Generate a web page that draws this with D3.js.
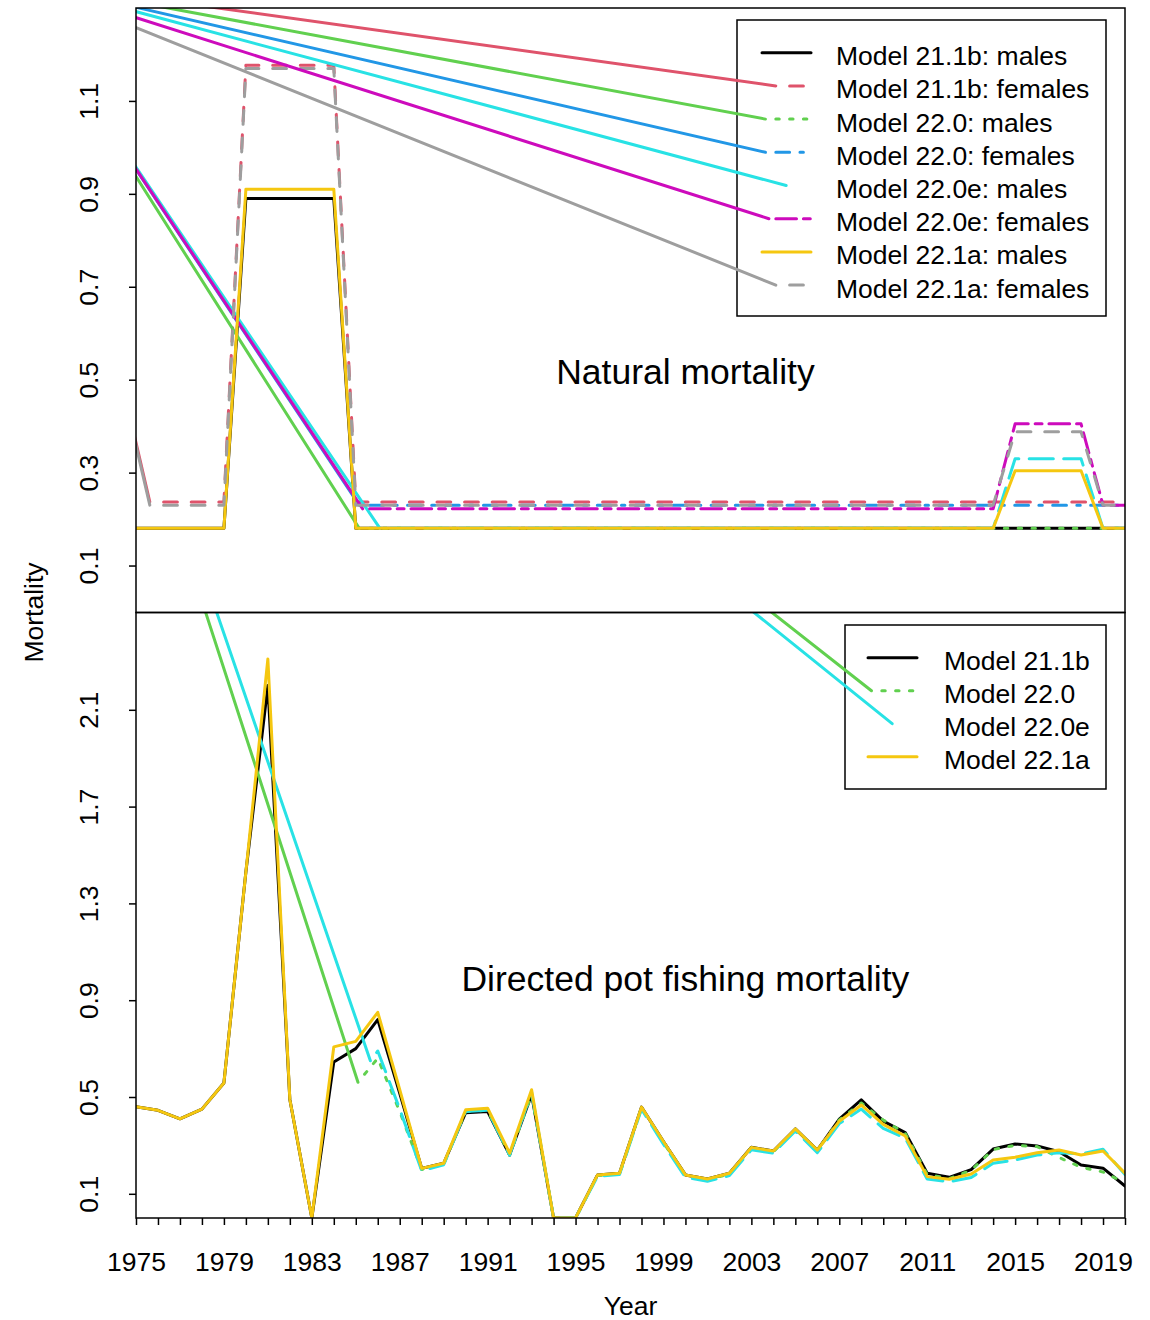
<!DOCTYPE html>
<html>
<head>
<meta charset="utf-8">
<script src="https://cdn.jsdelivr.net/npm/d3@7"></script>
<style>
  body { margin: 0; background: #fff; }
  svg { display: block; }
  text { font-family: "Liberation Sans", Arial, Helvetica, sans-serif; fill: #000; }
</style>
</head>
<body>
<svg id="chart" width="1150" height="1320"></svg>
<script>
// ---- data -------------------------------------------------------------
const years = [1975,1976,1977,1978,1979,1980,1981,1982,1983,1984,
               1985,1986,1987,1988,1989,1990,1991,1992,1993,1994,
               1995,1996,1997,1998,1999,2000,2001,2002,2003,2004,
               2005,2006,2007,2008,2009,2010,2011,2012,2013,2014,
               2015,2016,2017,2018,2019,2020];
const yearLabels = [1975,1979,1983,1987,1991,1995,1999,2003,2007,2011,2015,2019];
const topTicks = [0.1,0.3,0.5,0.7,0.9,1.1];
const bottomTicks = [0.1,0.5,0.9,1.3,1.7,2.1];

// natural mortality by model and sex
const natM_211b_m = [0.18,0.18,0.18,0.18,0.18,0.89,0.89,0.89,0.89,0.89,
                     0.18,0.18,0.18,0.18,0.18,0.18,0.18,0.18,0.18,0.18,
                     0.18,0.18,0.18,0.18,0.18,0.18,0.18,0.18,0.18,0.18,
                     0.18,0.18,0.18,0.18,0.18,0.18,0.18,0.18,0.18,0.18,
                     0.18,0.18,0.18,0.18,0.18,0.18];
const natM_211b_f = [0.237,0.237,0.237,0.237,0.237,1.177,1.177,1.177,1.177,1.177,
                     0.237,0.237,0.237,0.237,0.237,0.237,0.237,0.237,0.237,0.237,
                     0.237,0.237,0.237,0.237,0.237,0.237,0.237,0.237,0.237,0.237,
                     0.237,0.237,0.237,0.237,0.237,0.237,0.237,0.237,0.237,0.237,
                     0.237,0.237,0.237,0.237,0.237,0.237];
const natM_220_m  = [null,null,null,null,null,null,null,null,null,null,
                     0.18,0.18,0.18,0.18,0.18,0.18,0.18,0.18,0.18,0.18,
                     0.18,0.18,0.18,0.18,0.18,0.18,0.18,0.18,0.18,0.18,
                     0.18,0.18,0.18,0.18,0.18,0.18,0.18,0.18,0.18,0.18,
                     0.18,0.18,0.18,0.18,0.18,0.18];
const natM_220_f  = [null,null,null,null,null,null,null,null,null,null,
                     0.23,0.23,0.23,0.23,0.23,0.23,0.23,0.23,0.23,0.23,
                     0.23,0.23,0.23,0.23,0.23,0.23,0.23,0.23,0.23,0.23,
                     0.23,0.23,0.23,0.23,0.23,0.23,0.23,0.23,0.23,0.23,
                     0.23,0.23,0.23,0.23,0.23,0.23];
const natM_220e_m = [null,null,null,null,null,null,null,null,null,null,
                     0.18,0.18,0.18,0.18,0.18,0.18,0.18,0.18,0.18,0.18,
                     0.18,0.18,0.18,0.18,0.18,0.18,0.18,0.18,0.18,0.18,
                     0.18,0.18,0.18,0.18,0.18,0.18,0.18,0.18,0.18,0.18,
                     0.33,0.33,0.33,0.33,0.18,0.18];
const natM_220e_f = [null,null,null,null,null,null,null,null,null,null,
                     0.222,0.222,0.222,0.222,0.222,0.222,0.222,0.222,0.222,0.222,
                     0.222,0.222,0.222,0.222,0.222,0.222,0.222,0.222,0.222,0.222,
                     0.222,0.222,0.222,0.222,0.222,0.222,0.222,0.222,0.222,0.222,
                     0.405,0.405,0.405,0.405,0.23,0.23];
const natM_221a_m = [0.18,0.18,0.18,0.18,0.18,0.91,0.91,0.91,0.91,0.91,
                     0.18,0.18,0.18,0.18,0.18,0.18,0.18,0.18,0.18,0.18,
                     0.18,0.18,0.18,0.18,0.18,0.18,0.18,0.18,0.18,0.18,
                     0.18,0.18,0.18,0.18,0.18,0.18,0.18,0.18,0.18,0.18,
                     0.304,0.304,0.304,0.304,0.18,0.18];
const natM_221a_f = [0.23,0.23,0.23,0.23,0.23,1.17,1.17,1.17,1.17,1.17,
                     0.23,0.23,0.23,0.23,0.23,0.23,0.23,0.23,0.23,0.23,
                     0.23,0.23,0.23,0.23,0.23,0.23,0.23,0.23,0.23,0.23,
                     0.23,0.23,0.23,0.23,0.23,0.23,0.23,0.23,0.23,0.23,
                     0.388,0.388,0.388,0.388,0.23,0.23];

// directed pot fishing mortality by model
const potF_211b = [0.46,0.445,0.41,0.45,0.558,1.43,2.20,0.49,0.0,0.645,
                   0.70,0.82,0.515,0.205,0.226,0.435,0.44,0.26,0.51,0.0,
                   0.0,0.178,0.185,0.458,0.316,0.178,0.161,0.185,0.292,0.277,
                   0.368,0.281,0.409,0.488,0.40,0.353,0.185,0.168,0.20,0.285,
                   0.306,0.298,0.274,0.219,0.206,0.132];
const potF_220  = [null,null,null,null,null,null,null,null,null,null,
                   0.55,0.66,0.44,0.20,0.222,0.44,0.445,0.26,0.51,0.0,
                   0.0,0.175,0.182,0.455,0.312,0.174,0.158,0.182,0.29,0.273,
                   0.366,0.278,0.405,0.475,0.405,0.35,0.18,0.163,0.197,0.283,
                   0.30,0.295,0.25,0.21,0.19,0.146];
const potF_220e = [null,null,null,null,null,null,null,null,null,null,
                   0.57,0.69,0.45,0.195,0.22,0.44,0.445,0.26,0.52,0.0,
                   0.0,0.172,0.18,0.45,0.305,0.168,0.152,0.175,0.282,0.268,
                   0.36,0.27,0.39,0.45,0.37,0.33,0.161,0.15,0.167,0.226,
                   0.24,0.26,0.27,0.265,0.284,0.18];
const potF_221a = [0.46,0.445,0.41,0.45,0.558,1.43,2.31,0.49,0.0,0.707,
                   0.73,0.85,0.53,0.205,0.226,0.447,0.454,0.268,0.53,0.0,
                   0.0,0.178,0.185,0.458,0.316,0.178,0.161,0.185,0.291,0.277,
                   0.368,0.281,0.40,0.467,0.387,0.339,0.171,0.16,0.182,0.24,
                   0.251,0.27,0.281,0.26,0.277,0.185];

// points the first stroke of each broken-line path is drawn from
const topDataOrigin = [1970.54, 1.27];
const topLegendOrigin = [1969.63, 1.36];
const bottomOrigin = [1969.36, 4.97];

// ---- styling ----------------------------------------------------------
const palette = ["#000000","#DF536B","#61D04F","#2297E6","#28E2E5","#CD0BBC","#F5C710","#9E9E9E"];
const LW = 3;          // line width
const U = 3.45;        // dash unit
const LTY = { solid: [], dashed: [4,4], dotted: [1,3], dotdash: [1,3,4,3], longdash: [7,3], twodash: [2,2,6,2] };
const pat = lty => LTY[lty].map(v => v * U);

const topSeries = [
  { label: "Model 21.1b: males",   values: natM_211b_m, color: palette[0], lty: "solid" },
  { label: "Model 21.1b: females", values: natM_211b_f, color: palette[1], lty: "dashed" },
  { label: "Model 22.0: males",    values: natM_220_m,  color: palette[2], lty: "dotted" },
  { label: "Model 22.0: females",  values: natM_220_f,  color: palette[3], lty: "dotdash" },
  { label: "Model 22.0e: males",   values: natM_220e_m, color: palette[4], lty: "longdash" },
  { label: "Model 22.0e: females", values: natM_220e_f, color: palette[5], lty: "twodash" },
  { label: "Model 22.1a: males",   values: natM_221a_m, color: palette[6], lty: "solid" },
  { label: "Model 22.1a: females", values: natM_221a_f, color: palette[7], lty: "dashed" }
];
const bottomSeries = [
  { label: "Model 21.1b", values: potF_211b, color: palette[0], lty: "solid" },
  { label: "Model 22.0",  values: potF_220,  color: palette[2], lty: "dotted" },
  { label: "Model 22.0e", values: potF_220e, color: palette[4], lty: "longdash" },
  { label: "Model 22.1a", values: potF_221a, color: palette[6], lty: "solid" }
];

// ---- scales & layout --------------------------------------------------
const svg = d3.select("#chart");
const X0 = 136, X1 = 1125;
const TOP0 = 8, MID = 612.5, BOT1 = 1218;
const x = d3.scaleLinear().domain([1975, 2020]).range([X0, X1]);
const yTop = d3.scaleLinear().domain([0, 1.3]).range([612, TOP0]);
const yBot = d3.scaleLinear().domain([0, 2.5]).range([BOT1, 613]);

const defs = svg.append("defs");
defs.append("clipPath").attr("id", "clipTop")
  .append("rect").attr("x", X0).attr("y", TOP0).attr("width", X1 - X0).attr("height", MID - TOP0);
defs.append("clipPath").attr("id", "clipBot")
  .append("rect").attr("x", X0).attr("y", MID).attr("width", X1 - X0).attr("height", BOT1 - MID);

function stroke(sel, color) {
  return sel.attr("fill", "none").attr("stroke", color).attr("stroke-width", LW)
    .attr("stroke-linecap", "round").attr("stroke-linejoin", "round");
}

// drop the first `len` pixels of a polyline; returns the remaining vertices
function trimStart(pix, len) {
  let acc = 0;
  for (let i = 1; i < pix.length; i++) {
    const [ax, ay] = pix[i - 1], [bx, by] = pix[i];
    const seg = Math.hypot(bx - ax, by - ay);
    if (acc + seg >= len) {
      const t = (len - acc) / seg;
      return [[ax + t * (bx - ax), ay + t * (by - ay)], ...pix.slice(i)];
    }
    acc += seg;
  }
  return [pix[pix.length - 1]];
}

function drawSeries(g, series, y, origin) {
  const line = d3.line();
  series.forEach(s => {
    const pix = years.map((yr, i) => [yr, s.values[i]])
      .filter(d => d[1] != null)
      .map(d => [x(d[0]), y(d[1])]);
    const p = pat(s.lty);
    if (!p.length) {
      stroke(g.append("path").attr("d", line(pix)), s.color);
      return;
    }
    // the first dash is replaced by a stroke coming in from the origin point
    const rest = trimStart(pix, p[0]);
    stroke(g.append("path").attr("d", line(rest)), s.color)
      .attr("stroke-dasharray", p.join(",")).attr("stroke-dashoffset", p[0]);
    stroke(g.append("line"), s.color)
      .attr("x1", x(origin[0])).attr("y1", y(origin[1]))
      .attr("x2", rest[0][0]).attr("y2", rest[0][1]);
  });
}

// end of the last dash that fits completely inside a sample of length L
function lastFullDash(p, L) {
  let pos = 0, end = 0, i = 0;
  while (true) {
    const d = p[i % p.length];
    if (pos + d > L) break;
    end = pos + d;
    pos += d + p[(i + 1) % p.length];
    i += 2;
  }
  return end;
}

function drawLegend(g, series, opt, y, origin) {
  g.append("rect").attr("x", opt.bx).attr("y", opt.by).attr("width", opt.bw).attr("height", opt.bh)
    .attr("fill", "none").attr("stroke", "#000").attr("stroke-width", 1.5);
  series.forEach((s, i) => {
    const ly = opt.y0 + i * opt.dy;
    const p = pat(s.lty);
    const L = opt.sx1 - opt.sx0;
    if (!p.length) {
      stroke(g.append("line"), s.color).attr("x1", opt.sx0).attr("x2", opt.sx1).attr("y1", ly).attr("y2", ly);
    } else {
      stroke(g.append("line"), s.color)
        .attr("x1", x(origin[0])).attr("y1", y(origin[1]))
        .attr("x2", opt.sx0 + p[0]).attr("y2", ly);
      const e = lastFullDash(p, L);
      if (e > p[0]) {
        stroke(g.append("line"), s.color)
          .attr("x1", opt.sx0 + p[0]).attr("x2", opt.sx0 + e).attr("y1", ly).attr("y2", ly)
          .attr("stroke-dasharray", p.join(",")).attr("stroke-dashoffset", p[0]);
      }
    }
    g.append("text").attr("x", opt.tx).attr("y", ly + 12.5)
      .style("font-size", "26.5px").text(s.label);
  });
}

// ---- panels -----------------------------------------------------------
const gTop = svg.append("g").attr("clip-path", "url(#clipTop)");
drawSeries(gTop, topSeries, yTop, topDataOrigin);
const gBot = svg.append("g").attr("clip-path", "url(#clipBot)");
drawSeries(gBot, bottomSeries, yBot, bottomOrigin);

drawLegend(gTop, topSeries,
  { bx: 737, by: 20, bw: 369, bh: 296, y0: 52.7, dy: 33.2, sx0: 762, sx1: 811, tx: 836 },
  yTop, topLegendOrigin);
drawLegend(gBot, bottomSeries,
  { bx: 845, by: 625, bw: 261, bh: 164, y0: 657.7, dy: 33, sx0: 868, sx1: 917, tx: 944 },
  yBot, bottomOrigin);

// panel titles
svg.append("text").attr("x", x(2000)).attr("y", yTop(0.49)).attr("text-anchor", "middle")
  .style("font-size", "35.5px").text("Natural mortality");
svg.append("text").attr("x", x(2000)).attr("y", yBot(0.94)).attr("text-anchor", "middle")
  .style("font-size", "35.5px").text("Directed pot fishing mortality");

// ---- axes -------------------------------------------------------------
function yAxis(scale, ticks) {
  const g = svg.append("g").attr("transform", `translate(${X0},0)`)
    .call(d3.axisLeft(scale).tickValues(ticks).tickSize(7).tickSizeOuter(0).tickFormat(d3.format(".1f")));
  g.select(".domain").remove();
  g.selectAll(".tick line").attr("stroke", "#000").attr("stroke-width", 1.5);
  g.selectAll(".tick text").attr("transform", "rotate(-90)")
    .attr("x", 0).attr("y", -38).attr("dy", 0).attr("text-anchor", "middle")
    .style("font-size", "26.5px").style("font-family", '"Liberation Sans", Arial, sans-serif');
}
yAxis(yTop, topTicks);
yAxis(yBot, bottomTicks);

const gx = svg.append("g").attr("transform", `translate(0,${BOT1})`)
  .call(d3.axisBottom(x).tickValues(years).tickSize(7).tickSizeOuter(0)
    .tickFormat(d => yearLabels.includes(d) ? String(d) : ""));
gx.select(".domain").remove();
gx.selectAll(".tick line").attr("stroke", "#000").attr("stroke-width", 1.5);
gx.selectAll(".tick text").attr("y", 53).attr("dy", 0)
  .style("font-size", "26.5px").style("font-family", '"Liberation Sans", Arial, sans-serif');

// panel frames
const frame = svg.append("g").attr("fill", "none").attr("stroke", "#000").attr("stroke-width", 1.5);
frame.append("rect").attr("x", X0).attr("y", TOP0).attr("width", X1 - X0).attr("height", MID - TOP0);
frame.append("rect").attr("x", X0).attr("y", MID).attr("width", X1 - X0).attr("height", BOT1 - MID);

// axis titles
svg.append("text").attr("transform", `translate(43,${MID}) rotate(-90)`).attr("text-anchor", "middle")
  .style("font-size", "26.5px").text("Mortality");
svg.append("text").attr("x", (X0 + X1) / 2).attr("y", 1315).attr("text-anchor", "middle")
  .style("font-size", "26.5px").text("Year");
</script>
</body>
</html>
